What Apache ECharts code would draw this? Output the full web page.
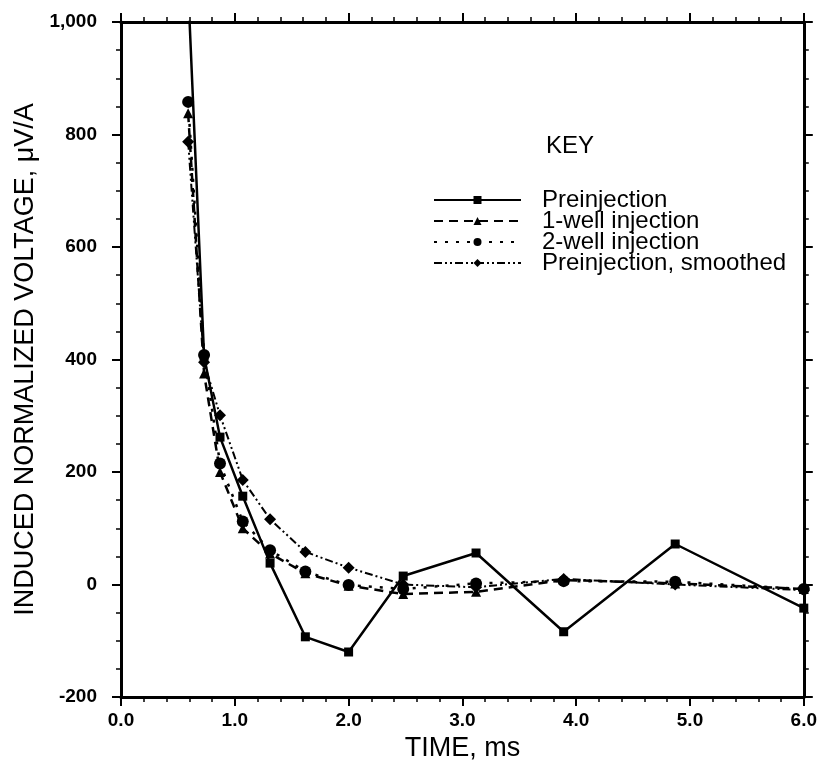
<!DOCTYPE html>
<html>
<head>
<meta charset="utf-8">
<script src="https://cdn.jsdelivr.net/npm/echarts@6/dist/echarts.min.js"></script>
<style>
  html, body { margin: 0; padding: 0; background: #fff; }
  #chart { width: 820px; height: 774px; }
</style>
</head>
<body>
<div id="chart"></div>
<script>
// Time gates (ms) shared by all four decay curves
const times = [0.59, 0.73, 0.87, 1.07, 1.31, 1.62, 2.0, 2.48, 3.12, 3.89, 4.87, 6.0];

// Induced normalized voltage, µV/A
const preinjection = [1060, 406, 262, 157, 38, -93, -120, 15, 56, -84, 72, -42];
const oneWell      = [838, 375, 200, 100, 55, 20, -2, -17, -13, 8, 2, -8];
const twoWell      = [858, 408, 215, 112, 61, 23, -1, -8, 2, 6, 5, -8];
const smoothed     = [787, 395, 301, 186, 116, 58, 30, 0, -5, 10, 0, -10];

const seriesNames = ['Preinjection', '1-well injection', '2-well injection', 'Preinjection, smoothed'];

const FONT = 'Liberation Sans, Arial, sans-serif';
const INK = '#000';

function pairs(ys) { return times.map((t, i) => [t, ys[i]]); }

const axisCommon = {
  axisLine: { onZero: false, lineStyle: { color: INK, width: 3 } },
  axisTick: { show: true, inside: false, length: 9, lineStyle: { color: INK, width: 2 } },
  minorTick: { show: true, length: 5, lineStyle: { color: INK, width: 1.5 } },
  splitLine: { show: false },
  minorSplitLine: { show: false }
};

const chart = echarts.init(document.getElementById('chart'), null, { renderer: 'canvas' });

chart.setOption({
  backgroundColor: '#fff',
  animation: false,
  title: {
    text: 'KEY',
    left: 541, top: 129,
    textStyle: { fontFamily: FONT, fontSize: 24, fontWeight: 'normal', color: INK }
  },
  legend: {
    orient: 'vertical',
    left: 433, top: 188, padding: 0,
    itemWidth: 87, itemHeight: 10, itemGap: -3,
    data: seriesNames,
    textStyle: { fontFamily: FONT, fontSize: 24, lineHeight: 20, color: INK, padding: [0, 0, 0, 16] }
  },
  grid: { left: 121, right: 16, top: 22, bottom: 77, containLabel: false },
  xAxis: [
    Object.assign({}, axisCommon, {
      type: 'value', position: 'bottom', min: 0, max: 6, interval: 1,
      minorTick: Object.assign({}, axisCommon.minorTick, { splitNumber: 5 }),
      name: 'TIME, ms', nameLocation: 'middle', nameGap: 36,
      nameTextStyle: { fontFamily: FONT, fontSize: 27, color: INK },
      axisLabel: {
        fontFamily: FONT, fontSize: 19, fontWeight: 'bold', color: INK, margin: 14,
        formatter: v => v.toFixed(1)
      }
    }),
    Object.assign({}, axisCommon, {
      type: 'value', position: 'top', min: 0, max: 6, interval: 1,
      minorTick: Object.assign({}, axisCommon.minorTick, { splitNumber: 5 }),
      axisLabel: { show: false }
    })
  ],
  yAxis: [
    Object.assign({}, axisCommon, {
      type: 'value', position: 'left', min: -200, max: 1000, interval: 200,
      minorTick: Object.assign({}, axisCommon.minorTick, { splitNumber: 4 }),
      name: 'INDUCED NORMALIZED VOLTAGE, \u03BCV/A', nameLocation: 'middle', nameGap: 76, nameRotate: 90,
      nameTextStyle: { fontFamily: FONT, fontSize: 27, color: INK },
      axisLabel: {
        fontFamily: FONT, fontSize: 19, fontWeight: 'bold', color: INK, margin: 24,
        formatter: v => v.toLocaleString('en-US')
      }
    }),
    Object.assign({}, axisCommon, {
      type: 'value', position: 'right', min: -200, max: 1000, interval: 200,
      minorTick: Object.assign({}, axisCommon.minorTick, { splitNumber: 4 }),
      axisLabel: { show: false }
    })
  ],
  series: [
    {
      name: seriesNames[0], type: 'line', data: pairs(preinjection),
      symbol: 'rect', symbolSize: 9, clip: true,
      lineStyle: { color: INK, width: 2.5, type: 'solid' },
      itemStyle: { color: INK }
    },
    {
      name: seriesNames[1], type: 'line', data: pairs(oneWell),
      symbol: 'triangle', symbolSize: 10, clip: true,
      lineStyle: { color: INK, width: 2.5, type: [9, 6] },
      itemStyle: { color: INK }
    },
    {
      name: seriesNames[2], type: 'line', data: pairs(twoWell),
      symbol: 'circle', symbolSize: 12, clip: true,
      lineStyle: { color: INK, width: 2.5, type: [3, 8] },
      itemStyle: { color: INK }
    },
    {
      name: seriesNames[3], type: 'line', data: pairs(smoothed),
      symbol: 'diamond', symbolSize: 12, clip: true,
      lineStyle: { color: INK, width: 2, type: [8, 3, 2, 3, 2, 3] },
      itemStyle: { color: INK }
    }
  ]
});
</script>
</body>
</html>
